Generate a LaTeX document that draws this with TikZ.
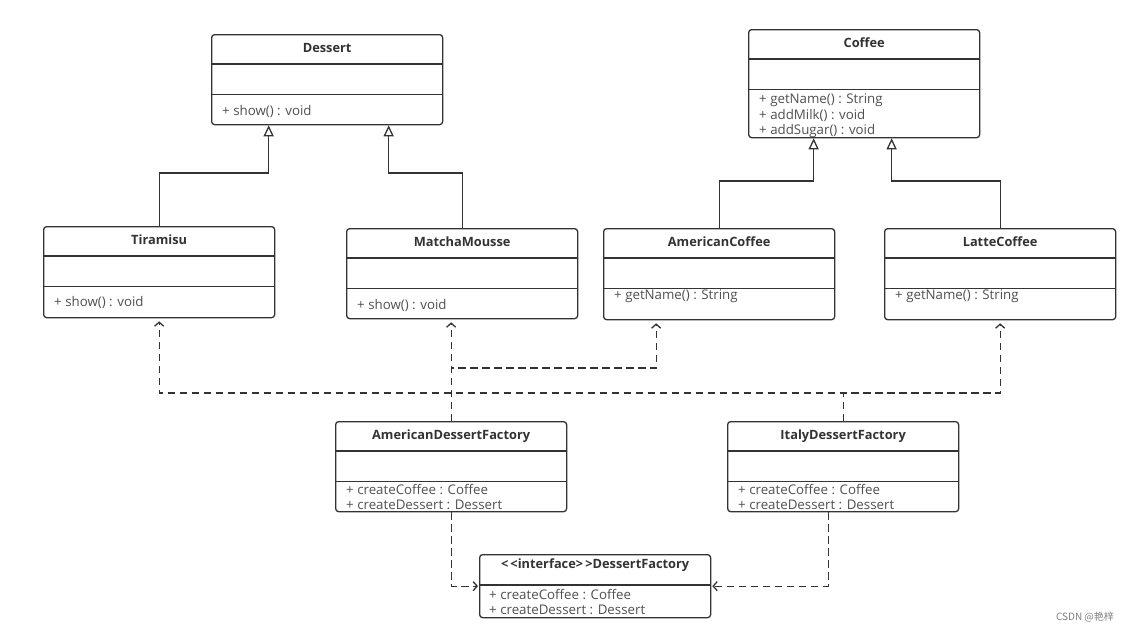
\documentclass[tikz,border=0pt]{standalone}
\usepackage{fontspec}
\setmainfont{Open Sans}
\newfontfamily\cjk{Noto Sans CJK SC}
\usetikzlibrary{arrows.meta}

\definecolor{umlline}{HTML}{333333}
\definecolor{umltext}{HTML}{505050}

\tikzset{
    classbody/.style={draw=umlline, line width=1.3pt, rounded corners=3pt, fill=white, inner sep=0pt, anchor=north west},
    classtitle/.style={font=\fontsize{12.8}{14}\selectfont\bfseries, text=umlline, inner sep=0pt, text height=9pt, text depth=2.5pt},
    classops/.style={font=\fontsize{13.3}{15.5}\selectfont, text=umltext, align=left, inner sep=0pt, anchor=north west},
    sepline/.style={draw=umlline, line width=1.3pt},
    inherit/.style={draw=umlline, line width=1.3pt, -{Triangle[open, fill=white, length=11pt, width=10pt]}},
    depend/.style={draw=umlline, line width=1.3pt, dash pattern=on 7.5pt off 4.5pt, -{Straight Barb[length=4pt, width=9pt]}, shorten >=3pt}
}

% #1 name, #2 top left, #3 width, #4 height, #5 title, #6 ops top, #7 ops
\newcommand{\classbox}[7]{%
    \node[classbody, minimum width=#3pt, minimum height=#4pt] (#1) at (#2) {};
    \node[classtitle] (#1-title) at ([yshift=-15pt]#1.north) {#5};
    \draw[sepline] ([yshift=-30pt]#1.north west) -- ([yshift=-30pt]#1.north east);
    \draw[sepline] ([yshift=-60.5pt]#1.north west) -- ([yshift=-60.5pt]#1.north east);
    \node[classops] (#1-ops) at ([shift={(11pt,-#6pt)}]#1.north west) {#7};
}

\begin{document}
\begin{tikzpicture}[x=1pt, y=-1pt]
    \fill[white] (0,0) rectangle (1133,632);
    \useasboundingbox (0,0) rectangle (1133,632);

    % products
    \classbox{dessert}{211,34}{231}{90}{Dessert}{71}{+ show() : void}
    \classbox{coffee}{748,29}{231}{108}{Coffee}{65}{+ getName() : String\\+ addMilk() : void\\+ addSugar() : void}
    \classbox{tiramisu}{43,226}{231}{91}{Tiramisu}{70}{+ show() : void}
    \classbox{matcha}{346,228}{231}{90}{MatchaMousse}{71}{+ show() : void}
    \classbox{amcoffee}{603,228}{231}{91}{AmericanCoffee}{62}{+ getName() : String}
    \classbox{latte}{884,228}{231}{91}{LatteCoffee}{62}{+ getName() : String}

    % factories
    \classbox{adf}{335,421}{231}{90}{AmericanDessertFactory}{63}{+ createCoffee : Coffee\\+ createDessert : Dessert}
    \classbox{idf}{727,421}{231}{90}{ItalyDessertFactory}{63}{+ createCoffee : Coffee\\+ createDessert : Dessert}

    % interface
    \node[classbody, minimum width=231pt, minimum height=63pt] (factory) at (479,554) {};
    \node[classtitle] (factory-title) at ([yshift=-11pt]factory.north) {{<}\,{<}interface{>}\,{>}DessertFactory};
    \draw[sepline] ([yshift=-31pt]factory.north west) -- ([yshift=-31pt]factory.north east);
    \node[classops] (factory-ops) at ([shift={(10pt,-35pt)}]factory.north west) {+ createCoffee : Coffee\\+ createDessert : Dessert};

    % inheritance
    \coordinate (dsplit) at (0,173);
    \coordinate (csplit) at (0,181);
    \draw[inherit] (tiramisu.north) -- (tiramisu.north |- dsplit) -| ([xshift=-58.5pt]dessert.south);
    \draw[inherit] (matcha.north) -- (matcha.north |- dsplit) -| ([xshift=61.5pt]dessert.south);
    \draw[inherit] (amcoffee.north) -- (amcoffee.north |- csplit) -| ([xshift=-50.5pt]coffee.south);
    \draw[inherit] (latte.north) -- (latte.north |- csplit) -| ([xshift=27.5pt]coffee.south);

    % dependencies
    \coordinate (ahigh) at (0,368);
    \coordinate (alow) at (0,393);
    \draw[depend] (adf.north) -- (adf.north |- matcha.south);
    \draw[depend] (adf.north) -- (adf.north |- ahigh) -| ([xshift=-63pt]amcoffee.south);
    \draw[depend] (idf.north) -- (idf.north |- alow) -| (tiramisu.south);
    \draw[depend] (idf.north) -- (idf.north |- alow) -| (latte.south);

    % realization
    \draw[depend, shorten >=1pt] (adf.south) |- (factory.west);
    \draw[depend, shorten >=1pt] ([xshift=-15pt]idf.south) |- (factory.east);

    \node[font=\cjk\fontsize{10}{12}\selectfont, text=gray] (mark) at (1085,617) {CSDN @艳梓};
\end{tikzpicture}
\end{document}
